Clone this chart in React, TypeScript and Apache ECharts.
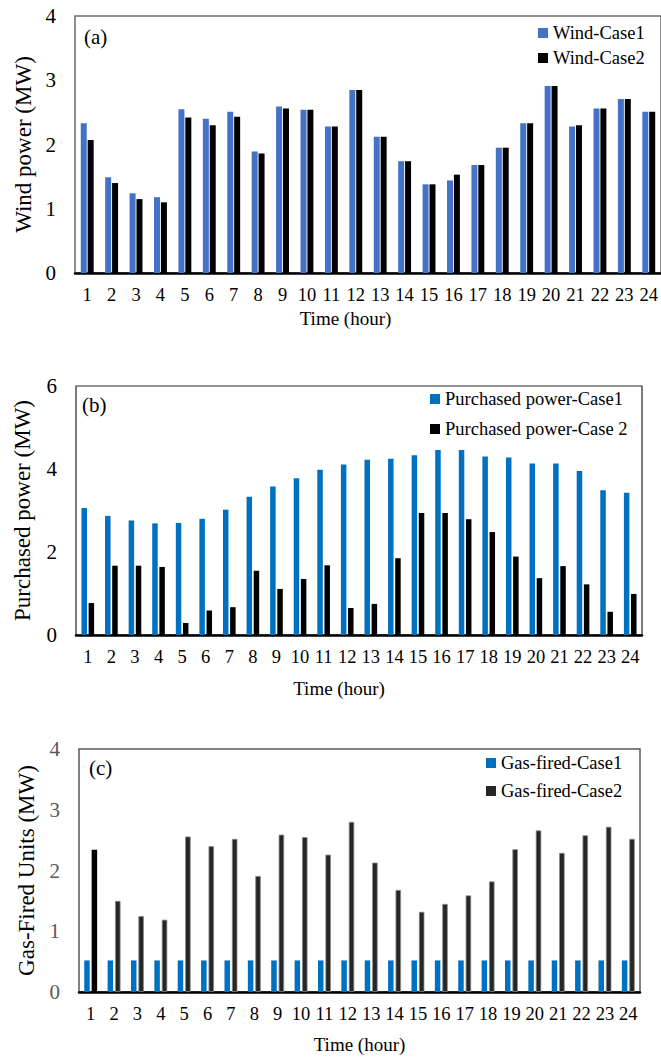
import React, { useEffect, useRef } from "react";
import * as echarts from "echarts";

const hours = ["1","2","3","4","5","6","7","8","9","10","11","12","13","14","15","16","17","18","19","20","21","22","23","24"];

const windCase1 = [2.33, 1.49, 1.24, 1.18, 2.55, 2.40, 2.51, 1.89, 2.59, 2.54, 2.28, 2.85, 2.12, 1.74, 1.38, 1.44, 1.68, 1.95, 2.33, 2.91, 2.28, 2.56, 2.71, 2.51];
const windCase2 = [2.07, 1.40, 1.15, 1.10, 2.42, 2.30, 2.43, 1.86, 2.56, 2.54, 2.28, 2.85, 2.12, 1.74, 1.38, 1.53, 1.68, 1.95, 2.33, 2.91, 2.30, 2.56, 2.71, 2.51];

const purchCase1 = [3.06, 2.87, 2.76, 2.69, 2.70, 2.80, 3.02, 3.33, 3.58, 3.78, 3.98, 4.11, 4.22, 4.25, 4.33, 4.46, 4.46, 4.30, 4.28, 4.13, 4.13, 3.95, 3.49, 3.43];
const purchCase2 = [0.77, 1.67, 1.67, 1.64, 0.29, 0.59, 0.67, 1.55, 1.11, 1.35, 1.68, 0.65, 0.75, 1.85, 2.94, 2.94, 2.79, 2.48, 1.89, 1.37, 1.66, 1.22, 0.56, 0.99];

const gasCase1 = [0.52, 0.52, 0.52, 0.52, 0.52, 0.52, 0.52, 0.52, 0.52, 0.52, 0.52, 0.52, 0.52, 0.52, 0.52, 0.52, 0.52, 0.52, 0.52, 0.52, 0.52, 0.52, 0.52, 0.52];
const gasCase2 = [2.34, 1.50, 1.25, 1.19, 2.56, 2.40, 2.52, 1.91, 2.59, 2.55, 2.26, 2.80, 2.13, 1.68, 1.32, 1.45, 1.59, 1.82, 2.35, 2.66, 2.29, 2.58, 2.72, 2.52];

const FONT = "'Liberation Serif', 'Times New Roman', serif";

export default function App() {
  const ref = useRef<HTMLDivElement>(null);
  useEffect(() => {
    if (!ref.current) return;
    const chart = echarts.init(ref.current, undefined, { renderer: "svg" });

    const xAxisBase = (gridIndex: number, nameGap: number, padRight: number) => ({
      type: "category",
      gridIndex,
      data: hours,
      name: "Time (hour)",
      nameLocation: "middle",
      nameGap,
      nameTextStyle: { fontFamily: FONT, fontSize: 19, color: "#000", padding: [0, padRight, 0, 0] },
      axisLine: { show: true, lineStyle: { color: "#000", width: 2.5 } },
      axisTick: { show: false },
      axisLabel: { fontFamily: FONT, fontSize: 18.5, color: "#000", margin: 12, interval: 0 },
      splitLine: { show: false },
    });

    const yAxisBase = (gridIndex: number, name: string, max: number, interval: number, nameGap: number, labelColor: string) => ({
      type: "value",
      gridIndex,
      min: 0,
      max,
      interval,
      name,
      nameLocation: "middle",
      nameGap,
      nameTextStyle: { fontFamily: FONT, fontSize: 23, color: "#000" },
      axisLine: { show: false },
      axisTick: { show: false },
      splitLine: { show: false },
      axisLabel: { fontFamily: FONT, fontSize: 21, color: labelColor, margin: 19 },
    });

    const legendBase = (left: number, top: number, gap: number, names: string[]) => ({
      orient: "vertical",
      left,
      top,
      padding: 0,
      itemGap: gap,
      itemWidth: 10,
      itemHeight: 10,
      icon: "rect",
      data: names.map((n) => ({ name: n, itemStyle: { borderWidth: 0 } })),
      textStyle: { fontFamily: FONT, fontSize: 18.5, color: "#000", lineHeight: 20 },
    });

    const panelTitle = (text: string, left: number, top: number) => ({
      text,
      left,
      top,
      padding: 0,
      textStyle: { fontFamily: FONT, fontSize: 21, fontWeight: "normal", color: "#000" },
    });

    chart.setOption({
      animation: false,
      backgroundColor: "#fff",
      title: [
        panelTitle("(a)", 84, 26),
        panelTitle("(b)", 82, 394),
        panelTitle("(c)", 89, 757),
      ],
      grid: [
        { left: 75, top: 16, width: 587, height: 257, show: true, borderColor: "#6b6b6b", borderWidth: 1.5 },
        { left: 76, top: 386, width: 566, height: 249, show: true, borderColor: "#262626", borderWidth: 1.2 },
        { left: 79, top: 749, width: 561, height: 243, show: true, borderColor: "#5a5a5a", borderWidth: 1.5 },
      ],
      legend: [
        legendBase(538, 23, 5, ["Wind-Case1", "Wind-Case2"]),
        legendBase(430, 389, 10, ["Purchased power-Case1", "Purchased power-Case 2"]),
        legendBase(486, 753, 8, ["Gas-fired-Case1", "Gas-fired-Case2"]),
      ],
      xAxis: [
        xAxisBase(0, 36, 45),
        xAxisBase(1, 44, 40),
        xAxisBase(2, 43, 0),
      ],
      yAxis: [
        yAxisBase(0, "Wind power (MW)", 4, 1, 39, "#000"),
        yAxisBase(1, "Purchased power (MW)", 6, 2, 42, "#000"),
        yAxisBase(2, "Gas-Fired Units (MW)", 4, 1, 41, "#595959"),
      ],
      series: [
        {
          name: "Wind-Case1", type: "bar", xAxisIndex: 0, yAxisIndex: 0,
          data: windCase1, barWidth: 6, barGap: "15%",
          itemStyle: { color: "#4472C4" },
        },
        {
          name: "Wind-Case2", type: "bar", xAxisIndex: 0, yAxisIndex: 0,
          data: windCase2, barWidth: 6, barGap: "15%",
          itemStyle: { color: "#000" },
        },
        {
          name: "Purchased power-Case1", type: "bar", xAxisIndex: 1, yAxisIndex: 1,
          data: purchCase1, barWidth: 5.5, barGap: "30%",
          itemStyle: { color: "#0070C0" },
        },
        {
          name: "Purchased power-Case 2", type: "bar", xAxisIndex: 1, yAxisIndex: 1,
          data: purchCase2, barWidth: 5.5, barGap: "30%",
          itemStyle: { color: "#000" },
        },
        {
          name: "Gas-fired-Case1", type: "bar", xAxisIndex: 2, yAxisIndex: 2,
          data: gasCase1, barWidth: 5.5, barGap: "35%",
          itemStyle: { color: "#0070C0" },
        },
        {
          name: "Gas-fired-Case2", type: "bar", xAxisIndex: 2, yAxisIndex: 2,
          data: gasCase2.map((v, i) => (i === 0 ? { value: v, itemStyle: { color: "#000", borderWidth: 0 } } : v)),
          barWidth: 5.5, barGap: "35%",
          itemStyle: { color: "#262626", borderColor: "#8c8c8c", borderWidth: 0.8 },
        },
      ],
    });

    return () => chart.dispose();
  }, []);

  return (
    <div
      ref={ref}
      style={{ position: "absolute", left: 0, top: 0, width: 661, height: 1057, background: "#fff" }}
    />
  );
}
